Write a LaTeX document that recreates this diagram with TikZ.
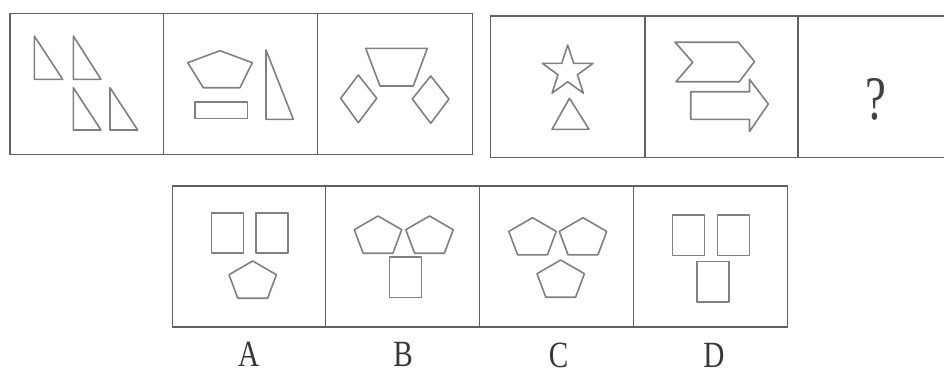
\documentclass[tikz,border=0pt]{standalone}
\usepackage{fontspec}
\setmainfont{Liberation Serif}
\tikzset{
  frame/.style={draw=black!62, line width=1.4pt},
  shp/.style={draw=black!50, line width=1.6pt, line join=round},
  lbl/.style={text=black!78, font=\rmfamily\fontsize{37}{37}\selectfont, inner sep=0pt},
  pent/.pic={\draw[shp] (0,0) -- (-23.7,13.7) -- (-14.9,37.2) -- (14.9,37.2) -- (23.7,13.7) -- cycle;},
  rbox/.pic={\draw[shp] (0,0) rectangle (32,40.5);}
}
\begin{document}
\begin{tikzpicture}[x=1pt,y=-1pt]
\clip (0,0) rectangle (944,372);
\fill[white] (0,0) rectangle (944,372);

% ---- top left row
\draw[frame] (10,13.3) rectangle (472.3,154.3);
\draw[frame] (163.3,13.3) -- (163.3,154.3);
\draw[frame] (317.7,13.3) -- (317.7,154.3);
% cell 1: four right triangles
\draw[shp] (34.3,36) -- (34.3,79.3) -- (62.7,79.3) -- cycle;
\draw[shp] (73.3,36) -- (73.3,79.3) -- (101,79.3) -- cycle;
\draw[shp] (73.3,87.7) -- (73.3,130) -- (101,130) -- cycle;
\draw[shp] (110,87.7) -- (110,130) -- (137.7,130) -- cycle;
% cell 2
\draw[shp] (220,50.7) -- (187.7,62.7) -- (203.3,87.7) -- (240,87.7) -- (252.3,62.7) -- cycle;
\draw[shp] (195,101.7) rectangle (247.3,118.3);
\draw[shp] (266,50) -- (266,119.3) -- (293.3,119.3) -- cycle;
% cell 3
\draw[shp] (365.7,48.3) -- (427.3,48.3) -- (413.3,86) -- (380,86) -- cycle;
\draw[shp] (358.3,75) -- (340.7,98.3) -- (358.3,122.7) -- (376.7,98.3) -- cycle;
\draw[shp] (430.7,76) -- (412.3,99) -- (430.7,123.3) -- (449,99) -- cycle;

% ---- top right row
\draw[frame] (490.7,15.8) rectangle (951.5,157.3);
\draw[frame] (645,15.8) -- (645,157.3);
\draw[frame] (798,15.8) -- (798,157.3);
% cell 1: star and triangle
\draw[shp, shift={(567.7,71.6)}] (90:26.6pt) -- (126:10.2pt) -- (162:26.6pt) -- (198:10.2pt)
  -- (234:26.6pt) -- (270:10.2pt) -- (306:26.6pt) -- (342:10.2pt) -- (18:26.6pt) -- (54:10.2pt) -- cycle;
\draw[shp] (569.5,98.3) -- (552,129.3) -- (589,129.3) -- cycle;
% cell 2: chevron and arrow
\draw[shp] (675,42.2) -- (738.3,42.2) -- (754.5,61.5) -- (739.3,81.7) -- (676,81.7) -- (692.7,62.3) -- cycle;
\draw[shp] (690.7,91.7) -- (749.5,91.7) -- (749.5,79.3) -- (768.3,104) -- (749.5,131.5)
  -- (749.5,119.3) -- (690.7,119.3) -- cycle;
% cell 3
\node[text=black!75, font=\rmfamily\fontsize{62}{62}\selectfont, inner sep=0pt] (q) at (875.5,99) {\scalebox{0.76}[1]{?}};

% ---- answer row
\draw[frame] (172.7,186) rectangle (787.3,327);
\draw[frame] (325.7,186) -- (325.7,327);
\draw[frame] (479.3,186) -- (479.3,327);
\draw[frame] (633.3,186) -- (633.3,327);
% A
\pic at (211.5,212.7) {rbox};
\pic at (256,212.7) {rbox};
\pic at (252.7,261) {pent};
% B
\pic at (378,216) {pent};
\pic at (429.5,216) {pent};
\pic at (389.3,257) {rbox};
% C
\pic at (532.5,217.7) {pent};
\pic at (583,217.7) {pent};
\pic at (560.7,260) {pent};
% D
\pic at (672.3,215) {rbox};
\pic at (717.3,215) {rbox};
\pic at (697,261.5) {rbox};

\node[lbl] (la) at (248.8,354.5) {\scalebox{0.79}[1]{A}};
\node[lbl] (lb) at (403,354.8) {\scalebox{0.79}[1]{B}};
\node[lbl] (lc) at (558.5,355.5) {\scalebox{0.79}[1]{C}};
\node[lbl] (ld) at (714,355.5) {\scalebox{0.79}[1]{D}};
\end{tikzpicture}
\end{document}
